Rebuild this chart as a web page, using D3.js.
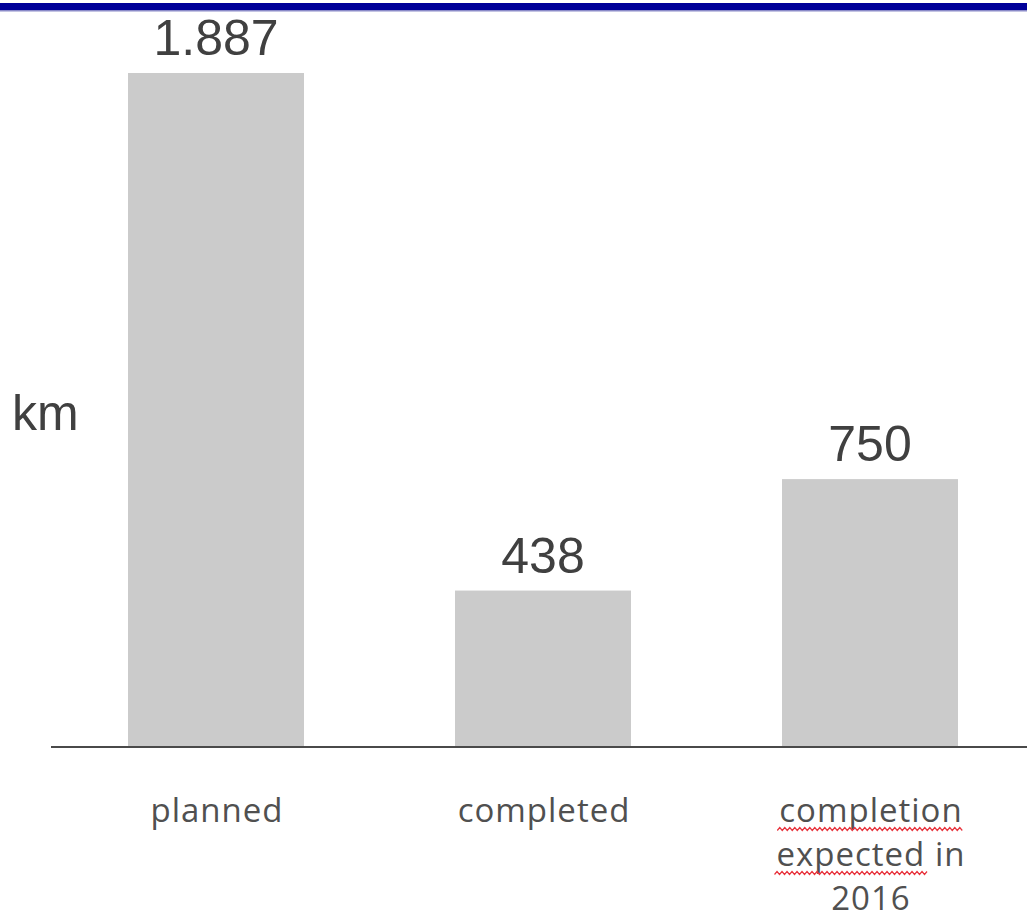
<!DOCTYPE html>
<html>
<head>
<meta charset="utf-8">
<script src="https://cdn.jsdelivr.net/npm/d3@7"></script>
<style>
  body { margin: 0; background: #fff; }
  svg { display: block; }
</style>
</head>
<body>
<div id="chart"></div>
<script>
// Data
const categories = ["planned", "completed", "completion expected in 2016"];
const categoryLines = [["planned"], ["completed"], ["completion", "expected in", "2016"]];
const values = [1887, 438, 750];
const valueLabels = ["1.887", "438", "750"];
const unitLabel = "km";
// words flagged by the spell checker in the original screenshot
const misspelled = ["completion", "expected"];

const width = 1027, height = 915;
const baseline = 747;

const svg = d3.select("#chart")
    .append("svg")
    .attr("width", width)
    .attr("height", height);

// Blue rule across the top
svg.append("rect").attr("x", 0).attr("y", 3).attr("width", width).attr("height", 7).attr("fill", "#000099");
svg.append("rect").attr("x", 0).attr("y", 10).attr("width", width).attr("height", 1.5).attr("fill", "#8a8ac8");

// Scales
const xScale = d3.scaleBand()
    .domain(categories)
    .range([51, 1035])
    .paddingInner(0.4618)
    .paddingOuter(0.2355);

const yScale = d3.scaleLinear()
    .domain([0, 1887])
    .range([baseline, 73]);

// Bars
svg.selectAll(".bar")
    .data(values)
    .enter().append("rect")
    .attr("class", "bar")
    .attr("x", (d, i) => xScale(categories[i]))
    .attr("y", d => yScale(d))
    .attr("width", xScale.bandwidth())
    .attr("height", d => baseline - yScale(d))
    .attr("fill", "#cbcbcb");

// Value labels above bars
svg.selectAll(".value-label")
    .data(values)
    .enter().append("text")
    .attr("class", "value-label")
    .attr("x", (d, i) => xScale(categories[i]) + xScale.bandwidth() / 2)
    .attr("y", d => yScale(d) - 18)
    .attr("text-anchor", "middle")
    .style("font-family", "'Liberation Sans', Arial, sans-serif")
    .style("font-size", "50px")
    .attr("fill", "#404040")
    .text((d, i) => valueLabels[i]);

// Baseline axis
svg.append("line")
    .attr("x1", 51)
    .attr("x2", width)
    .attr("y1", baseline)
    .attr("y2", baseline)
    .attr("stroke", "#4a4a4a")
    .attr("stroke-width", 2);

// Category labels (may wrap to several lines)
const catGroups = svg.selectAll(".cat-label")
    .data(categories)
    .enter().append("text")
    .attr("class", "cat-label")
    .attr("text-anchor", "middle")
    .style("font-family", "'Open Sans', 'DejaVu Sans', sans-serif")
    .style("font-size", "33px")
    .style("letter-spacing", "1px")
    .attr("fill", "#505050");

catGroups.each(function(d, i) {
    const cx = xScale(d) + xScale.bandwidth() / 2 + 1;
    categoryLines[i].forEach((line, j) => {
        d3.select(this).append("tspan")
            .attr("x", cx)
            .attr("y", 822 + j * 44)
            .text(line);
    });
});

// Red spell-check squiggles under flagged words
svg.selectAll(".cat-label tspan").each(function() {
    const t = d3.select(this).text();
    const word = misspelled.find(w => t.startsWith(w));
    if (!word) return;
    const bb = this.getBBox();
    const wordWidth = this.getSubStringLength(0, word.length);
    const x0 = bb.x - 2, x1 = bb.x + wordWidth + 2;
    const y = +d3.select(this).attr("y") + 7;
    const pts = [];
    for (let x = x0, k = 0; x <= x1; x += 2.5, k++) pts.push([x, y + (k % 2 ? -1.5 : 1.5)]);
    svg.append("path")
        .attr("d", d3.line()(pts))
        .attr("fill", "none")
        .attr("stroke", "#e8323c")
        .attr("stroke-width", 1.2);
});

// Unit label
svg.append("text")
    .attr("x", 12)
    .attr("y", 430)
    .style("font-family", "'Liberation Sans', Arial, sans-serif")
    .style("font-size", "50px")
    .attr("fill", "#404040")
    .text(unitLabel);
</script>
</body>
</html>
